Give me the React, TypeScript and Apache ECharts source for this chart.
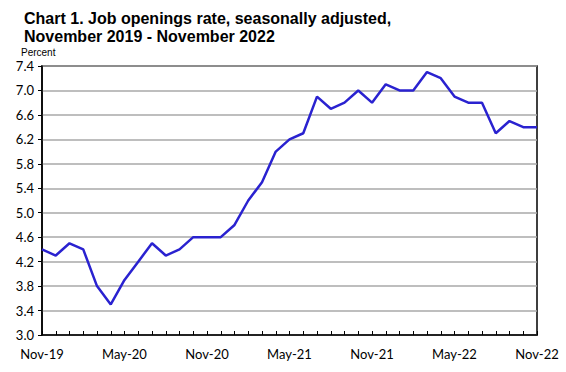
import React, { useEffect, useRef } from "react";
import * as echarts from "echarts";

const months: string[] = [
  "Nov-19", "Dec-19", "Jan-20", "Feb-20", "Mar-20", "Apr-20", "May-20", "Jun-20", "Jul-20", "Aug-20", "Sep-20", "Oct-20",
  "Nov-20", "Dec-20", "Jan-21", "Feb-21", "Mar-21", "Apr-21", "May-21", "Jun-21", "Jul-21", "Aug-21", "Sep-21", "Oct-21",
  "Nov-21", "Dec-21", "Jan-22", "Feb-22", "Mar-22", "Apr-22", "May-22", "Jun-22", "Jul-22", "Aug-22", "Sep-22", "Oct-22",
  "Nov-22",
];

const jobOpeningsRate: number[] = [
  4.4, 4.3, 4.5, 4.4, 3.8, 3.5, 3.9, 4.2, 4.5, 4.3, 4.4, 4.6,
  4.6, 4.6, 4.8, 5.2, 5.5, 6.0, 6.2, 6.3, 6.9, 6.7, 6.8, 7.0,
  6.8, 7.1, 7.0, 7.0, 7.3, 7.2, 6.9, 6.8, 6.8, 6.3, 6.5, 6.4,
  6.4,
];

const titleLines: string[] = [
  "Chart 1. Job openings rate, seasonally adjusted,",
  "November 2019 - November 2022",
];
const yAxisName = "Percent";
const yMin = 3.0;
const yMax = 7.4;
const yInterval = 0.4;

export default function App() {
  const ref = useRef<HTMLDivElement>(null);

  useEffect(() => {
    if (!ref.current) return;
    const chart = echarts.init(ref.current, undefined, { renderer: "svg" });
    chart.setOption({
      animation: false,
      backgroundColor: "#ffffff",
      title: {
        text: titleLines.join("\n"),
        left: 19,
        top: 4,
        textStyle: {
          fontFamily: "Liberation Sans, Arial, sans-serif",
          fontWeight: "bold",
          fontSize: 16,
          lineHeight: 18,
          color: "#000000",
        },
      },
      graphic: [
        {
          type: "text",
          left: 21,
          top: 47,
          style: {
            text: yAxisName,
            fontFamily: "Liberation Sans, Arial, sans-serif",
            fontSize: 10,
            fill: "#000000",
          },
        },
      ],
      grid: {
        left: 42,
        right: 29,
        top: 66,
        bottom: 37,
        show: true,
        borderColor: "#000000",
        borderWidth: 1.5,
        containLabel: false,
      },
      xAxis: {
        type: "category",
        data: months,
        boundaryGap: false,
        axisLine: { show: true, lineStyle: { color: "#000000", width: 1.5 } },
        axisTick: {
          show: true,
          inside: true,
          length: 4,
          interval: 0,
          lineStyle: { color: "#000000", width: 1 },
        },
        axisLabel: {
          interval: 5,
          margin: 12,
          fontFamily: "Lato, Carlito, sans-serif",
          fontSize: 13,
          color: "#000000",
        },
        splitLine: { show: false },
      },
      yAxis: {
        type: "value",
        min: yMin,
        max: yMax,
        interval: yInterval,
        axisLine: { show: true, lineStyle: { color: "#000000", width: 1.5 } },
        axisTick: { show: true, length: 4, lineStyle: { color: "#000000" } },
        axisLabel: {
          margin: 8,
          fontFamily: "Lato, Carlito, sans-serif",
          fontSize: 13,
          lineHeight: 13,
          color: "#000000",
          formatter: (v: number) => v.toFixed(1),
        },
        splitLine: { show: true, lineStyle: { color: "#a8a8a8", width: 1.5 } },
      },
      series: [
        {
          type: "line",
          data: jobOpeningsRate,
          symbol: "none",
          lineStyle: { color: "#2a22d0", width: 2.5 },
          itemStyle: { color: "#2a22d0" },
        },
      ],
    });
    return () => chart.dispose();
  }, []);

  return (
    <div
      ref={ref}
      style={{ position: "fixed", left: 0, top: 0, width: 566, height: 372, background: "#fff" }}
    />
  );
}
